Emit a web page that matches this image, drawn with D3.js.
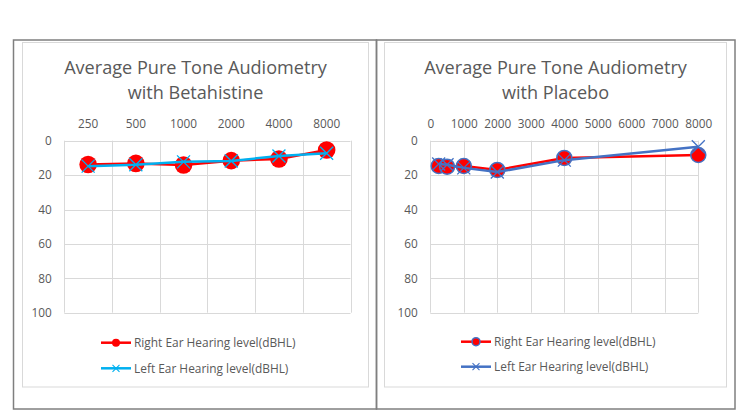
<!DOCTYPE html>
<html><head><meta charset="utf-8">
<script src="https://cdn.jsdelivr.net/npm/d3@7"></script>
<style>body{margin:0;background:#fff}svg{display:block}text{font-family:"Open Sans",sans-serif;fill:#595959}</style>
</head><body><svg id="c" width="750" height="410"></svg>
<script>
// ---- data ----
const freqLabels = ["250", "500", "1000", "2000", "4000", "8000"];
const freqValues = [250, 500, 1000, 2000, 4000, 8000];
const betaRight = [13.8, 13.2, 14.1, 11.6, 10.6, 5.4];
const betaLeft = [14.8, 14.0, 12.3, 11.8, 8.9, 7.3];
const placeboRight = [14.7, 15.1, 14.7, 17.0, 10.0, 8.3];
const placeboLeft = [13.5, 14.0, 15.8, 18.2, 11.3, 3.5];
const yTicks = [0, 20, 40, 60, 80, 100];
const placeboXTicks = [0, 1000, 2000, 3000, 4000, 5000, 6000, 7000, 8000];
const titles = [["Average Pure Tone Audiometry", "with Betahistine"], ["Average Pure Tone Audiometry", "with Placebo"]];
const legendLabels = ["Right Ear Hearing level(dBHL)", "Left Ear Hearing level(dBHL)"];

const svg = d3.select("#c");
const grid = "#d9d9d9";

// outer frames
svg.append("rect").attr("x", 13.5).attr("y", 40).attr("width", 363).attr("height", 369).attr("fill", "none").attr("stroke", "#7f7f7f").attr("stroke-width", 1.5);
svg.append("rect").attr("x", 376.5).attr("y", 40).attr("width", 358.5).attr("height", 369).attr("fill", "none").attr("stroke", "#7f7f7f").attr("stroke-width", 1.5);

function xMark(g, cx, cy, h, color, w) {
  g.append("path").attr("d", `M${cx - h},${cy - h}L${cx + h},${cy + h}M${cx - h},${cy + h}L${cx + h},${cy - h}`)
    .attr("stroke", color).attr("stroke-width", w).attr("fill", "none");
}

function chart(cfg) {
  const g = svg.append("g");
  // inner box
  g.append("rect").attr("x", cfg.box[0]).attr("y", 42.5).attr("width", cfg.box[1] - cfg.box[0]).attr("height", 344.5)
    .attr("fill", "none").attr("stroke", grid).attr("stroke-width", 1);
  const cx = (cfg.box[0] + cfg.box[1]) / 2;
  // title
  cfg.title.forEach((t, i) => g.append("text").attr("x", cx).attr("y", 74 + i * 24.5).attr("text-anchor", "middle")
    .style("font-size", "18.1px").text(t));
  const y = d3.scaleLinear().domain([0, 100]).range([140.7, 312.7]);
  let xPos, xGridVals;
  if (cfg.band) {
    const x = d3.scaleBand().domain(freqLabels).range(cfg.xr).padding(0);
    xPos = (i) => x(freqLabels[i]) + x.bandwidth() / 2;
    xGridVals = freqLabels.map(l => x(l)).concat([cfg.xr[1]]);
    const ax = g.append("g").attr("transform", `translate(0,${y(0)})`).call(d3.axisTop(x).tickSize(0).tickPadding(13));
    ax.select(".domain").remove();
    ax.selectAll("text").style("font-size", "11.8px").style("fill", "#595959");
  } else {
    const x = d3.scaleLinear().domain([0, 8000]).range(cfg.xr);
    xPos = (i) => x(freqValues[i]);
    xGridVals = placeboXTicks.map(v => x(v));
    const ax = g.append("g").attr("transform", `translate(0,${y(0)})`).call(d3.axisTop(x).tickValues(placeboXTicks).tickFormat(d3.format("d")).tickSize(0).tickPadding(13));
    ax.select(".domain").remove();
    ax.selectAll("text").style("font-size", "11.8px").style("fill", "#595959");
  }
  // grid
  g.selectAll(null).data(yTicks).enter().append("line").attr("x1", cfg.xr[0]).attr("x2", cfg.xr[1])
    .attr("y1", d => Math.round(y(d)) + 0.5).attr("y2", d => Math.round(y(d)) + 0.5).attr("stroke", grid);
  g.selectAll(null).data(xGridVals).enter().append("line").attr("y1", y(0)).attr("y2", y(100))
    .attr("x1", d => Math.round(d) + 0.5).attr("x2", d => Math.round(d) + 0.5).attr("stroke", grid);
  // y axis
  const ay = g.append("g").attr("transform", `translate(${cfg.xr[0]},0)`).call(d3.axisLeft(y).tickValues(yTicks).tickSize(0).tickPadding(12.5));
  ay.select(".domain").remove();
  ay.selectAll("text").style("font-size", "11.8px").style("fill", "#595959");

  const line = d3.line().x((d, i) => xPos(i)).y(d => y(d));
  // series 1 (right ear)
  g.append("path").datum(cfg.s1).attr("d", line).attr("fill", "none").attr("stroke", "#ff0000").attr("stroke-width", 2.5);
  cfg.s1.forEach((v, i) => g.append("circle").attr("cx", xPos(i)).attr("cy", y(v)).attr("r", cfg.r)
    .attr("fill", "#ff0000").attr("stroke", cfg.c1stroke).attr("stroke-width", cfg.c1w));
  // series 2 (left ear)
  g.append("path").datum(cfg.s2).attr("d", line).attr("fill", "none").attr("stroke", cfg.c2).attr("stroke-width", 2.5);
  cfg.s2.forEach((v, i) => xMark(g, xPos(i), y(v), 6.5, cfg.c2, 1.3));

  // legend
  const lx = cfg.leg;
  [0, 1].forEach(k => {
    const ly = cfg.ly[k];
    const col = k === 0 ? "#ff0000" : cfg.c2;
    g.append("line").attr("x1", lx).attr("x2", lx + 30).attr("y1", ly).attr("y2", ly).attr("stroke", col).attr("stroke-width", 2.5);
    if (k === 0) g.append("circle").attr("cx", lx + 15).attr("cy", ly).attr("r", 4).attr("fill", "#ff0000").attr("stroke", cfg.c1stroke).attr("stroke-width", cfg.c1w);
    else xMark(g, lx + 15, ly, 3.5, cfg.c2, 1.1);
    g.append("text").attr("x", lx + 33).attr("y", ly + 4.4).style("font-size", "11.9px").text(legendLabels[k]);
  });
}

chart({ box: [22.5, 368.5], xr: [64.3, 350.5], band: true, title: titles[0], s1: betaRight, s2: betaLeft,
  c2: "#00b0f0", c1stroke: "#ff0000", c1w: 0, r: 8.8, leg: 101, ly: [342.7, 368.3] });
chart({ box: [384.5, 726.5], xr: [430.3, 698.3], band: false, title: titles[1], s1: placeboRight, s2: placeboLeft,
  c2: "#4472c4", c1stroke: "#4472c4", c1w: 1.5, r: 7.5, leg: 461, ly: [341.7, 366.7] });
</script></body></html>
